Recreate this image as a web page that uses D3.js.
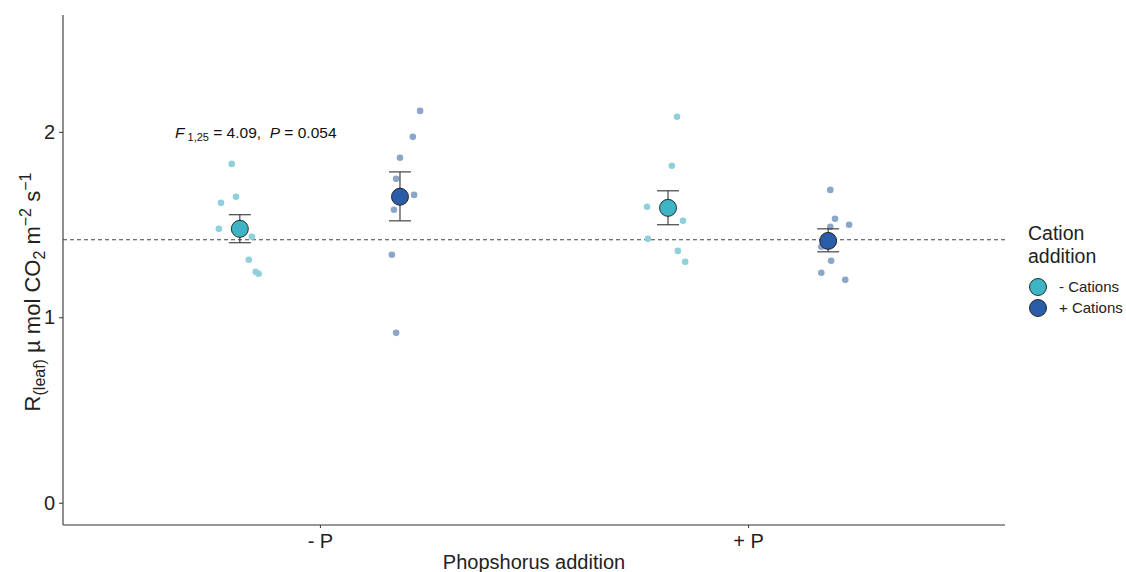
<!DOCTYPE html>
<html>
<head>
<meta charset="utf-8">
<script src="https://cdn.jsdelivr.net/npm/d3@7"></script>
<style>
  body { margin: 0; background: #fff; }
  svg text { font-family: "Liberation Sans", Arial, sans-serif; white-space: pre; }
</style>
</head>
<body>
<div id="chart"></div>
<script>
// categories
const phosphorus = ['- P', '+ P'];
const cations = ['- Cations', '+ Cations'];
const yTicks = [0, 1, 2];

// group means and standard errors (order: -P/-Cat, -P/+Cat, +P/-Cat, +P/+Cat)
const groupP = ['- P', '- P', '+ P', '+ P'];
const groupC = ['- Cations', '+ Cations', '- Cations', '+ Cations'];
const means = [1.477, 1.650, 1.590, 1.412];
const seLow = [1.402, 1.520, 1.499, 1.353];
const seHigh = [1.553, 1.784, 1.682, 1.477];

const raw0 = [1.827, 1.650, 1.617, 1.477, 1.434, 1.310, 1.245, 1.235];
const jit0 = [-0.019, -0.009, -0.044, -0.049, 0.028, 0.021, 0.037, 0.044];
const raw1 = [2.113, 1.973, 1.860, 1.747, 1.660, 1.580, 1.337, 0.916];
const jit1 = [0.047, 0.030, 0.000, -0.009, 0.033, -0.014, -0.019, -0.009];
const raw2 = [2.081, 1.817, 1.596, 1.520, 1.423, 1.358, 1.299];
const jit2 = [0.021, 0.009, -0.049, 0.035, -0.047, 0.023, 0.040];
const raw3 = [1.687, 1.531, 1.499, 1.488, 1.380, 1.305, 1.240, 1.202];
const jit3 = [0.005, 0.016, 0.049, 0.005, -0.016, 0.007, -0.016, 0.040];
const rawValues = [raw0, raw1, raw2, raw3];
const rawJitter = [jit0, jit1, jit2, jit3];

const overallMean = 1.418;

const width = 1126, height = 572;
const margin = { top: 15, right: 121, bottom: 47, left: 63 };

const fillColor = d3.scaleOrdinal().domain(cations).range(['#3db5c5', '#2a5ca8']);
const rawColor = d3.scaleOrdinal().domain(cations).range(['#8fd1da', '#8ca6c9']);

const svg = d3.select('#chart').append('svg')
  .attr('width', width)
  .attr('height', height);

const x = d3.scalePoint()
  .domain(phosphorus)
  .range([margin.left, width - margin.right])
  .padding(0.6);

const y = d3.scaleLinear()
  .domain([-0.12, 2.63])
  .range([height - margin.bottom, margin.top]);

const step = x.step();
const dodge = d3.scalePoint().domain(cations).range([-0.187 * step, 0.187 * step]);
const cx = (i) => x(groupP[i]) + dodge(groupC[i]);

// reference line
svg.append('line')
  .attr('x1', margin.left).attr('x2', width - margin.right)
  .attr('y1', y(overallMean)).attr('y2', y(overallMean))
  .attr('stroke', '#444').attr('stroke-width', 1.1)
  .attr('stroke-dasharray', '4,3');

// raw points
rawValues.forEach((vals, g) => {
  svg.append('g').selectAll('circle')
    .data(vals)
    .enter()
    .append('circle')
    .attr('cx', (d, i) => cx(g) + rawJitter[g][i] * step)
    .attr('cy', (d) => y(d))
    .attr('r', 3.3)
    .attr('fill', rawColor(groupC[g]));
});

// error bars
const errs = svg.append('g');
means.forEach((m, i) => {
  const xc = cx(i);
  errs.append('line').attr('x1', xc).attr('x2', xc)
    .attr('y1', y(seLow[i])).attr('y2', y(seHigh[i]))
    .attr('stroke', '#333').attr('stroke-width', 1.1);
  [seLow[i], seHigh[i]].forEach((v) => {
    errs.append('line').attr('x1', xc - 11).attr('x2', xc + 11)
      .attr('y1', y(v)).attr('y2', y(v))
      .attr('stroke', '#333').attr('stroke-width', 1.1);
  });
});

// means
svg.append('g').selectAll('circle')
  .data(means)
  .enter()
  .append('circle')
  .attr('cx', (d, i) => cx(i))
  .attr('cy', (d) => y(d))
  .attr('r', 8.5)
  .attr('fill', (d, i) => fillColor(groupC[i]))
  .attr('stroke', '#1a1a1a')
  .attr('stroke-width', 0.9);

// axes
const yAxis = svg.append('g')
  .attr('transform', `translate(${margin.left},0)`)
  .call(d3.axisLeft(y).tickValues(yTicks).tickFormat(d3.format('d')).tickSize(4).tickPadding(4));
yAxis.select('.domain').attr('d', `M0,${margin.top}V${height - margin.bottom}`);

const xAxis = svg.append('g')
  .attr('transform', `translate(0,${height - margin.bottom})`)
  .call(d3.axisBottom(x).tickSize(3).tickPadding(6));
xAxis.select('.domain').attr('d', `M${margin.left},0H${width - margin.right}`);

svg.selectAll('.domain').attr('stroke', '#333').attr('stroke-width', 1.1);
svg.selectAll('.tick line').attr('stroke', '#333');
svg.selectAll('.tick text').attr('fill', '#222').attr('font-size', 20);

// axis titles
svg.append('text')
  .attr('x', (margin.left + width - margin.right) / 2)
  .attr('y', 569)
  .attr('text-anchor', 'middle')
  .attr('font-size', 20)
  .attr('fill', '#222')
  .text('Phopshorus addition');

const yTitle = svg.append('text')
  .attr('transform', 'translate(40,292) rotate(-90)')
  .attr('text-anchor', 'middle')
  .attr('font-size', 22)
  .attr('fill', '#222');
yTitle.append('tspan').text('R');
yTitle.append('tspan').attr('font-size', 16).attr('dy', 5).text('(leaf)');
yTitle.append('tspan').attr('dy', -5).text(' \u00b5 mol CO');
yTitle.append('tspan').attr('font-size', 16).attr('dy', 5).text('2');
yTitle.append('tspan').attr('dy', -5).text(' m');
yTitle.append('tspan').attr('font-size', 16).attr('dy', -9).text('\u22122');
yTitle.append('tspan').attr('dy', 9).text(' s');
yTitle.append('tspan').attr('font-size', 16).attr('dy', -9).text('\u22121');

// annotation
const note = svg.append('text')
  .attr('x', 175).attr('y', 138)
  .attr('font-size', 15.5)
  .attr('fill', '#111');
note.append('tspan').attr('font-style', 'italic').text('F');
note.append('tspan').attr('font-size', 11).attr('dy', 3).text(' 1,25');
note.append('tspan').attr('dy', -3).text(' = 4.09,  ');
note.append('tspan').attr('font-style', 'italic').text('P');
note.append('tspan').text(' = 0.054');

// legend
const legend = svg.append('g').attr('transform', 'translate(1028,0)');
legend.append('text').attr('x', 0).attr('y', 240).attr('font-size', 19.5).attr('fill', '#222').text('Cation');
legend.append('text').attr('x', 0).attr('y', 263).attr('font-size', 19.5).attr('fill', '#222').text('addition');
cations.forEach((c, i) => {
  legend.append('circle')
    .attr('cx', 10).attr('cy', 287 + i * 21)
    .attr('r', 8.5)
    .attr('fill', fillColor(c))
    .attr('stroke', '#1a1a1a').attr('stroke-width', 0.9);
  legend.append('text')
    .attr('x', 31).attr('y', 292 + i * 21)
    .attr('font-size', 15).attr('fill', '#222')
    .text(c);
});
</script>
</body>
</html>
